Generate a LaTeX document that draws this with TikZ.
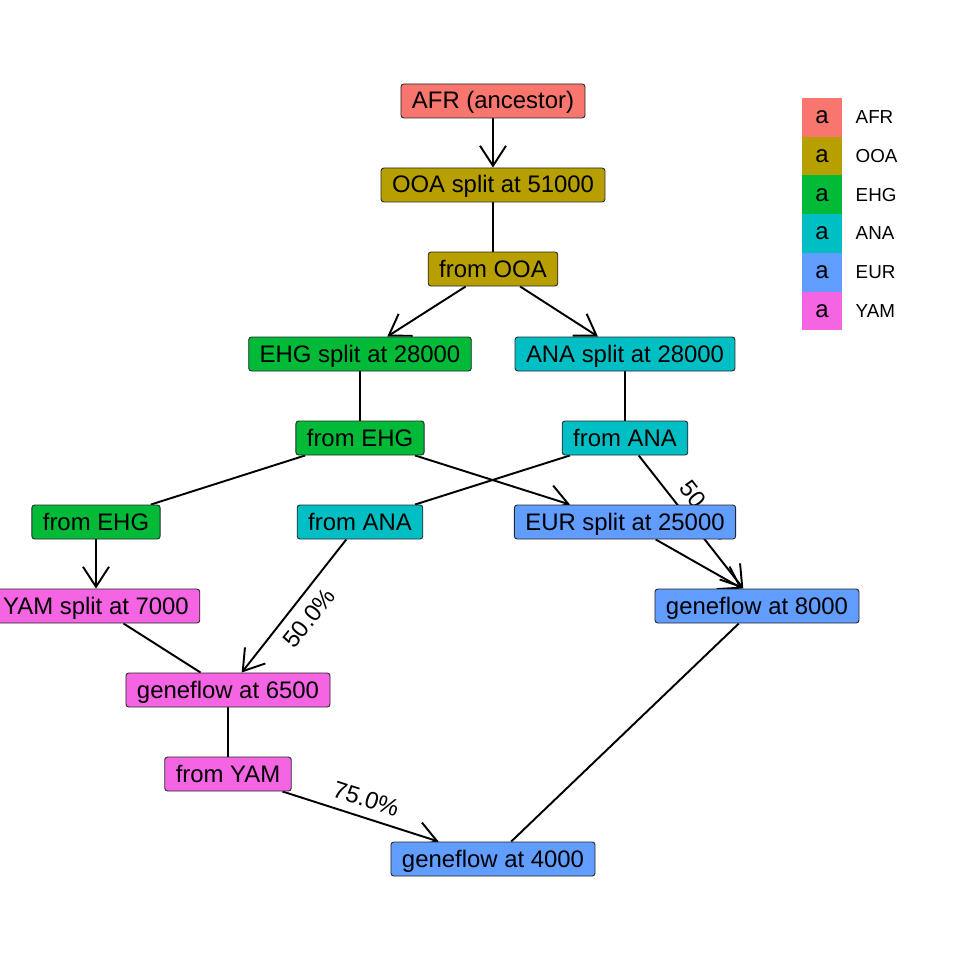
\documentclass[tikz,border=0pt]{standalone}
\usepackage{fontspec}
\setmainfont{Liberation Sans}
\usetikzlibrary{arrows.meta,positioning,backgrounds}
\definecolor{cAFR}{HTML}{F8766D}
\definecolor{cOOA}{HTML}{B79F00}
\definecolor{cEHG}{HTML}{00BA38}
\definecolor{cANA}{HTML}{00BFC4}
\definecolor{cEUR}{HTML}{619CFF}
\definecolor{cYAM}{HTML}{F564E3}
\newcommand{\nodefont}{\fontsize{13.6}{16}\selectfont}
\tikzset{
  pop/.style={draw=black!85,line width=0.5pt,rounded corners=1.6pt,fill=#1,
    inner xsep=0.22cm,inner ysep=0.1cm,text height=0.40cm,text depth=0.08cm,
    font=\nodefont},
  lin/.style={line width=1.1pt},
  arr/.style={-{Straight Barb[length=4mm,width=5.2mm]}},
  pct/.style={sloped,font=\nodefont,inner sep=0.19cm,text height=0.34cm,text depth=0pt},
  legbox/.style={fill=#1,minimum width=0.8cm,minimum height=0.774cm,inner sep=0pt,font=\nodefont},
  legtxt/.style={inner xsep=0pt,font=\fontsize{10.7}{13}\selectfont},
}

\begin{document}
\begin{tikzpicture}
  \useasboundingbox (0,0) rectangle (19.2,-19.2);
  % populations
  \node[pop=cAFR] (afr) at (9.86,-2.02) {AFR (ancestor)};
  \node[pop=cOOA] (ooasplit) at (9.86,-3.70) {OOA split at 51000};
  \node[pop=cOOA] (fromooa) at (9.86,-5.38) {from OOA};
  \node[pop=cEHG] (ehgsplit) at (7.20,-7.08) {EHG split at 28000};
  \node[pop=cANA] (anasplit) at (12.50,-7.08) {ANA split at 28000};
  \node[pop=cEHG] (fromehgA) at (7.20,-8.76) {from EHG};
  \node[pop=cANA] (fromanaA) at (12.50,-8.76) {from ANA};
  \node[pop=cEHG] (fromehgB) at (1.92,-10.44) {from EHG};
  \node[pop=cANA] (fromanaB) at (7.20,-10.44) {from ANA};
  \node[pop=cEUR] (eursplit) at (12.50,-10.44) {EUR split at 25000};
  \node[pop=cYAM] (yamsplit) at (1.92,-12.12) {YAM split at 7000};
  \node[pop=cEUR] (gf8000) at (15.14,-12.12) {geneflow at 8000};
  \node[pop=cYAM] (gf6500) at (4.56,-13.80) {geneflow at 6500};
  \node[pop=cYAM] (fromyam) at (4.56,-15.48) {from YAM};
  \node[pop=cEUR] (gf4000) at (9.86,-17.18) {geneflow at 4000};
  % edges below the boxes
  \begin{scope}[on background layer]
    \draw[lin,arr] (afr) -- (ooasplit);
    \draw[lin] (ooasplit) -- (fromooa);
    \draw[lin,arr] (fromooa) -- (ehgsplit);
    \draw[lin,arr] (fromooa) -- (anasplit);
    \draw[lin] (ehgsplit) -- (fromehgA);
    \draw[lin] (anasplit) -- (fromanaA);
    \draw[lin] (fromehgA) -- (fromehgB);
    \draw[lin,arr] (fromehgA) -- (eursplit);
    \draw[lin] (fromanaA) -- (fromanaB);
    \draw[lin,arr] (fromanaA) -- node[pct,above] (pctA) {50.0\%} (gf8000);
    \draw[lin,arr] (fromehgB) -- (yamsplit);
    \draw[lin,arr] (eursplit) -- ([xshift=-0.3cm]gf8000.north);
    \draw[lin] (yamsplit) -- (gf6500);
    \draw[lin,arr] (fromanaB) -- node[pct,below] (pctB) {50.0\%} (gf6500);
    \draw[lin] (gf6500) -- (fromyam);
    \draw[lin,arr] (fromyam) -- node[pct,above] (pctC) {75.0\%} (gf4000);
    \draw[lin] (gf8000) -- (gf4000);
  \end{scope}
  % legend
  \foreach \n [count=\i from 0] in {AFR,OOA,EHG,ANA,EUR,YAM} {
    \node[legbox=c\n] (leg\n) at (16.44,{-2.347-0.774*\i}) {a};
    \node[legtxt,right=0.26cm of leg\n] (lab\n) {\n};
  }
\end{tikzpicture}
\end{document}
